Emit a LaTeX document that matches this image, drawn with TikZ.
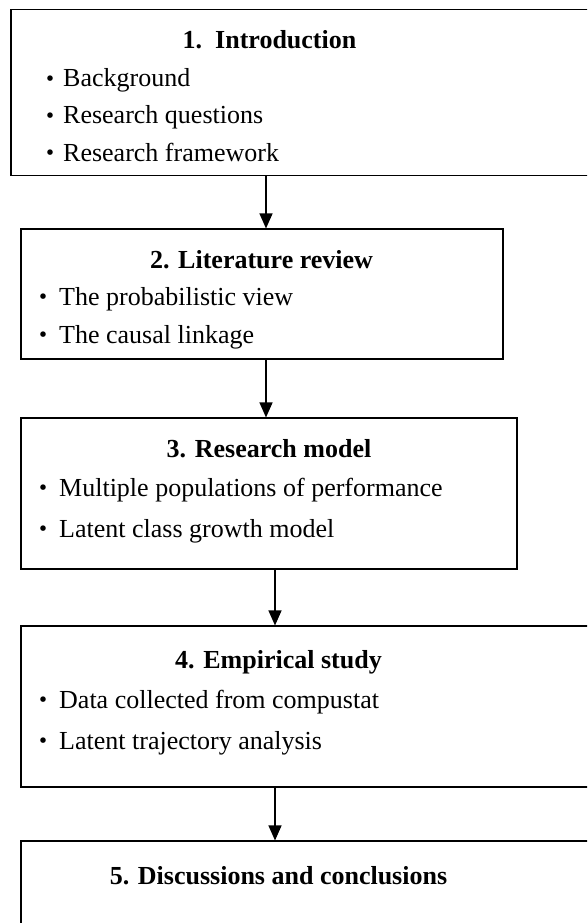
\documentclass[tikz,border=0pt]{standalone}
\usepackage{fontspec}
\setmainfont{Liberation Serif}
\newfontfamily\cjk{Noto Sans CJK JP}
\usetikzlibrary{arrows.meta}
\tikzset{
  box/.style={draw,line width=1.1pt,inner sep=0pt},
  title/.style={anchor=base,inner sep=0pt,font=\fontsize{26}{37}\selectfont\bfseries},
  item/.style={anchor=base west,inner sep=0pt,font=\fontsize{26}{37}\selectfont},
  arr/.style={line width=1.2pt,-{Triangle[width=13pt,length=15pt]}}
}
\newcommand{\dotitem}[2]{\makebox[#1pt][l]{\makebox[0pt]{\raisebox{-1.5pt}{\cjk ・}}}#2}
\begin{document}
\begin{tikzpicture}[x=1pt,y=-1pt]
                \useasboundingbox (0,0) rectangle (587,923);
                \clip (0,0) rectangle (587,923);
                % boxes
                \node[box,minimum width=609pt,minimum height=166pt] (intro) at (315.5,92.5) {};
                \node[box,minimum width=482pt,minimum height=130pt] (litrev) at (262,294) {};
                \node[box,minimum width=496pt,minimum height=151pt] (model) at (269,493.5) {};
                \node[box,minimum width=599pt,minimum height=161pt] (study) at (320.5,706.5) {};
                \node[box,minimum width=599pt,minimum height=119pt] (concl) at (320.5,900.5) {};
                % titles
                \node[title] (t1) at (269.5,49) {1.\ \ Introduction};
                \node[title] (t2) at (261.5,268) {2. Literature review};
                \node[title] (t3) at (269,457) {3. Research model};
                \node[title] (t4) at (278.5,668) {4. Empirical study};
                \node[title] (t5) at (278.5,884) {5. Discussions and conclusions};
                % items
                \foreach \t [count=\i] in {Background,Research questions,Research framework}
                    {\node[item] (i1-\i) at (50,50+37*\i) {\dotitem{13}{\t}};}
                \node[item] (i2-1) at (43.5,305) {\dotitem{15.5}{The probabilistic view}};
                \node[item] (i2-2) at (43.5,343) {\dotitem{15.5}{The causal linkage}};
                \node[item] (i3-1) at (43.5,496) {\dotitem{15.5}{Multiple populations of performance}};
                \node[item] (i3-2) at (43.5,537) {\dotitem{15.5}{Latent class growth model}};
                \node[item] (i4-1) at (43.5,708) {\dotitem{15.5}{Data collected from compustat}};
                \node[item] (i4-2) at (43.5,749) {\dotitem{15.5}{Latent trajectory analysis}};
                % arrows
                \coordinate (a1) at (266,0);
                \coordinate (a2) at (275,0);
                \draw[arr] (a1 |- intro.south) -- (a1 |- litrev.north);
                \draw[arr] (a1 |- litrev.south) -- (a1 |- model.north);
                \draw[arr] (a2 |- model.south) -- (a2 |- study.north);
                \draw[arr] (a2 |- study.south) -- (a2 |- concl.north);
            \end{tikzpicture}
\end{document}
